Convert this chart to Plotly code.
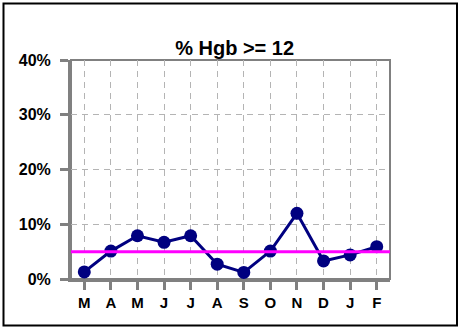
import plotly.graph_objects as go

months = ['M', 'A', 'M', 'J', 'J', 'A', 'S', 'O', 'N', 'D', 'J', 'F']
pct_hgb = [1.3, 5.1, 7.9, 6.7, 7.9, 2.7, 1.2, 5.1, 12.0, 3.3, 4.4, 5.9]
target = 5
y_ticks = [0, 10, 20, 30, 40]
y_labels = ['0%', '10%', '20%', '30%', '40%']

x_pos = list(range(len(months)))
grey = '#808080'
font = 'Arial, Liberation Sans, sans-serif'

trace = go.Scatter(x=x_pos, y=pct_hgb, mode='lines+markers',
                   line=dict(color='#000080', width=3),
                   marker=dict(color='#000080', size=13),
                   cliponaxis=False, showlegend=False)

layout = go.Layout(
    width=460, height=328,
    margin=dict(l=71, r=70, t=60, b=49),
    paper_bgcolor='white', plot_bgcolor='white',
    title=dict(text='% Hgb >= 12', x=0.51, xanchor='center',
               y=1 - 48 / 328, yanchor='middle', yref='container',
               font=dict(family=font, size=20, color='black', weight='bold')),
    xaxis=dict(range=[-0.5, len(months) - 0.5], tickvals=x_pos, ticktext=months,
               showgrid=True, gridcolor='#b4b4b4', griddash='6px,5px', gridwidth=1,
               showline=True, linecolor=grey, linewidth=3,
               ticks='outside', ticklen=8, tickwidth=3, tickcolor=grey,
               ticklabelstandoff=0, automargin=False,
               tickfont=dict(family=font, size=15, color='black', weight='bold'),
               zeroline=False, fixedrange=True),
    yaxis=dict(range=[0, 40], tickvals=y_ticks, ticktext=y_labels,
               showgrid=True, gridcolor='#b4b4b4', griddash='6px,5px', gridwidth=1,
               showline=True, linecolor=grey, linewidth=3,
               ticks='outside', ticklen=8, tickwidth=3, tickcolor=grey,
               ticklabelstandoff=6, automargin=False,
               tickfont=dict(family=font, size=16, color='black', weight='bold'),
               zeroline=False, fixedrange=True),
    shapes=[
        dict(type='rect', xref='x domain', yref='y domain', x0=0, x1=1, y0=0, y1=1,
             line=dict(color=grey, width=2), layer='below'),
        dict(type='line', xref='x domain', yref='y', x0=0, x1=1, y0=target, y1=target,
             line=dict(color='#ff00ff', width=3), layer='above'),
        dict(type='rect', xref='paper', yref='paper',
             x0=(3.5 - 71) / 319, x1=(457 - 71) / 319,
             y0=(279 - 325.5) / 219, y1=(279 - 3.5) / 219,
             line=dict(color='black', width=2)),
    ],
)

fig = go.Figure(data=[trace], layout=layout)
fig.write_html('out.html', config={'displayModeBar': False},
               post_script="document.body.style.margin='0';")
